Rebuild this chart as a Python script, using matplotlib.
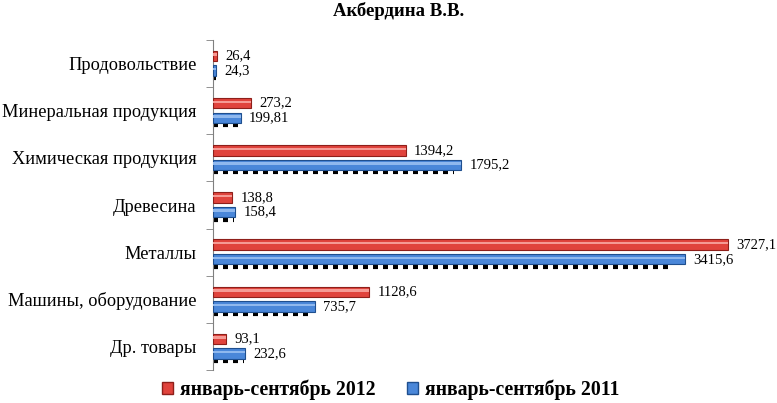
import matplotlib
matplotlib.use("Agg")
import matplotlib.pyplot as plt
import numpy as np
from matplotlib.patches import Patch

categories = ["Продовольствие", "Минеральная продукция", "Химическая продукция",
              "Древесина", "Металлы", "Машины, оборудование", "Др. товары"]
vals_2012 = [26.4, 273.2, 1394.2, 138.8, 3727.1, 1128.6, 93.1]
vals_2011 = [24.3, 199.81, 1795.2, 158.4, 3415.6, 735.7, 232.6]
labels_2012 = ["26,4", "273,2", "1394,2", "138,8", "3727,1", "1128,6", "93,1"]
labels_2011 = ["24,3", "199,81", "1795,2", "158,4", "3415,6", "735,7", "232,6"]
series_names = ["январь-сентябрь 2012", "январь-сентябрь 2011"]
title = "Акбердина В.В."

plt.rcParams['font.family'] = ['Liberation Serif', 'DejaVu Serif']

fig = plt.figure(figsize=(7.77, 4.03), dpi=100)
ax = fig.add_axes([213/777, 1-370/403, (760-213)/777, 330/403])

y = np.arange(len(categories))
red = '#E0433C'
red_edge = '#8E1F1A'
blue = '#4A87D9'
blue_edge = '#1F4F8F'
h = 0.22
off_r = -0.16
off_b = 0.15

ax.barh(y + off_r, vals_2012, height=h, color=red, edgecolor=red_edge, linewidth=0.8, zorder=3)
ax.barh(y + off_b, vals_2011, height=h, color=blue, edgecolor=blue_edge, linewidth=0.8, zorder=3)
# highlight stripes
ax.barh(y + off_r - 0.03, vals_2012, height=0.05, color='#F59A94', linewidth=0, zorder=4)
ax.barh(y + off_b - 0.03, vals_2011, height=0.05, color='#8FB8EE', linewidth=0, zorder=4)
# shadows
ax.hlines(y + off_b + h/2 + 0.05, 0, np.array(vals_2011) * 0.97, colors='black',
          linestyles=(0, (1.2, 1.2)), linewidth=3, zorder=2)

for i in range(len(categories)):
    ax.annotate(labels_2012[i], (vals_2012[i], y[i] + off_r), xytext=(6, 0),
                textcoords='offset points', va='center', ha='left', fontsize=10.5)
    ax.annotate(labels_2011[i], (vals_2011[i], y[i] + off_b), xytext=(6, 0),
                textcoords='offset points', va='center', ha='left', fontsize=10.5)

ax.set_xlim(0, (760-213)/((728-213)/3727.1))
ax.set_ylim(len(categories) - 0.5, -0.5)
ax.set_yticks(y)
ax.set_yticklabels(categories, fontsize=13.2)
ax.tick_params(axis='y', which='major', length=0, pad=12)
ax.set_yticks(np.arange(len(categories) + 1) - 0.5, minor=True)
ax.tick_params(axis='y', which='minor', length=5, direction='out', color='#808080')
ax.set_xticks([])
for s in ['top', 'right', 'bottom']:
    ax.spines[s].set_visible(False)
ax.spines['left'].set_color('#808080')

fig.text(399/777, 1-11/403, title, ha='center', va='center', fontsize=13.5, fontweight='bold')

handles = [Patch(facecolor=red, edgecolor=red_edge), Patch(facecolor=blue, edgecolor=blue_edge)]
fig.legend(handles, series_names, loc='center', bbox_to_anchor=(391/777, 1-390/403), ncol=2,
           frameon=False, prop={'weight': 'bold', 'size': 14.2}, handlelength=0.55, handleheight=0.55,
           handletextpad=0.35, columnspacing=1.6)

fig.savefig("out.png", dpi=100)
